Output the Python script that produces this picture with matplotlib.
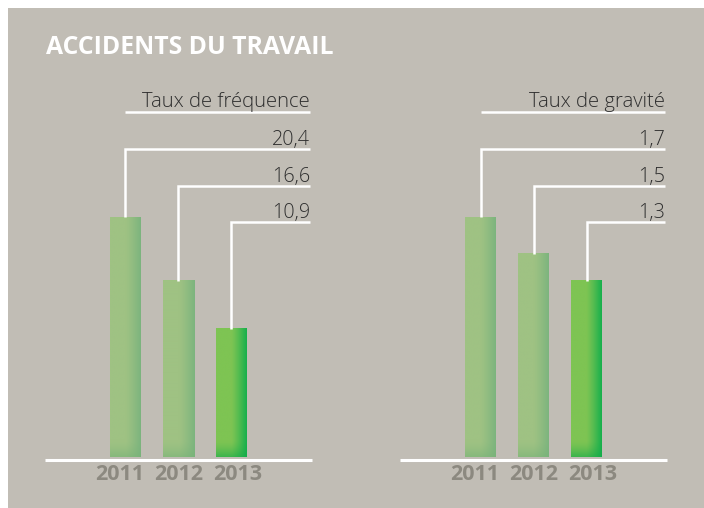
import numpy as np
import matplotlib
matplotlib.use("Agg")
import matplotlib.pyplot as plt
from matplotlib.patches import Rectangle
from matplotlib.colors import to_rgb

# ---------------- data ----------------
years = ["2011", "2012", "2013"]
freq_values = [20.4, 16.6, 10.9]          # labelled values, Taux de fréquence
freq_bar_heights = [20.4, 15.0, 10.9]     # bar heights as drawn in the picture
grav_values = [1.7, 1.5, 1.3]             # labelled values, Taux de gravité
grav_bar_heights = [1.7, 1.44, 1.25]      # bar heights as drawn in the picture
panel_titles = ["Taux de fréquence", "Taux de gravité"]
title = "ACCIDENTS DU TRAVAIL"

# ---------------- style ----------------
W, H = 704, 508
BG = "#c1bdb5"
TXT = "#2e2e2e"
YEAR_COL = "#8c8980"
LIGHT_BAR = ("#9fc283", "#7cb47e", "#78b378")
DARK_BAR = ("#7ec453", "#16b04c", "#12ab48")

plt.rcParams["font.family"] = ["Open Sans", "DejaVu Sans"]

fig = plt.figure(figsize=(W / 100, H / 100), dpi=100)
fig.patch.set_facecolor("white")
fig.patches.append(Rectangle((8 / W, 0), 1, 1 - 8 / H, transform=fig.transFigure,
                             facecolor=BG, edgecolor="none", zorder=-10))

fig.text(46 / W, 1 - 47 / H, title, color="white", fontsize=17.8, fontweight="bold",
         ha="left", va="center", zorder=5)


def bar_image(colors, bar_px_h):
    left, right, bottom = [np.array(to_rgb(c)) for c in colors]
    nx, ny = 64, 128
    t = np.linspace(0, 1, nx)
    s = np.clip((t - 0.5) / 0.5, 0, 1) ** 1.2
    row = left[None, :] * (1 - s[:, None]) + right[None, :] * s[:, None]
    img = np.repeat(row[None, :, :], ny, axis=0)
    frac = min(16.0 / bar_px_h, 0.5)
    v = np.linspace(1, 0, ny)  # top -> bottom (row 0 = top)
    b = np.clip((frac - v) / frac, 0, 1) ** 1.5
    img = img * (1 - b[:, None, None] * 0.6) + bottom[None, None, :] * (b[:, None, None] * 0.6)
    return img


def panel(x0_px, values, heights, header):
    ax_left, ax_right, ax_bot, ax_top = x0_px, x0_px + 267, 460, 80
    ax = fig.add_axes([ax_left / W, 1 - ax_bot / H, (ax_right - ax_left) / W,
                       (ax_bot - ax_top) / H])
    ax.set_zorder(2)
    ax.set_axis_off()
    ax.patch.set_alpha(0)
    step = 53.0
    xmin = -80.5 / step
    xmax = xmin + (ax_right - ax_left) / step
    k = 240.0 / max(heights)                 # px per unit
    ymin = -3.0 / k
    ymax = ymin + (ax_bot - ax_top) / k
    x = np.arange(len(heights))
    bw = 31 / step

    def level(py):
        return ymin + (ax_bot - py) / (ax_bot - ax_top) * (ymax - ymin)

    xend = xmin + (310 - 45) / step
    # baseline
    ax.plot([xmin, xmax], [ymin, ymin], color="white", lw=2.2, solid_capstyle="butt",
            clip_on=False, zorder=3)
    # bars
    for i, h in enumerate(heights):
        cols = DARK_BAR if i == len(heights) - 1 else LIGHT_BAR
        ax.imshow(bar_image(cols, h * k), extent=[x[i] - bw / 2, x[i] + bw / 2, 0, h],
                  aspect="auto", interpolation="bilinear", zorder=2)
    # header
    hy = level(112)
    ax.plot([x[0], xend], [hy, hy], color="white", lw=1.8, solid_capstyle="butt", zorder=3)
    ax.annotate(header, xy=(xend, hy), xytext=(0, 5), textcoords="offset pixels",
                ha="right", va="baseline", fontsize=14.6, color=TXT, fontweight="light")
    # leaders
    for i, (v, h, py) in enumerate(zip(values, heights, [149, 186, 222])):
        ly = level(py)
        ax.plot([x[i], x[i], xend], [h, ly, ly], color="white", lw=1.8,
                solid_joinstyle="miter", solid_capstyle="butt", zorder=3)
        ax.annotate(f"{v:.1f}".replace(".", ","), xy=(xend, ly), xytext=(0, 4),
                    textcoords="offset pixels", ha="right", va="baseline",
                    fontsize=14.2, color=TXT, fontweight="light")
    # years (labels are spaced a little wider than the bars)
    mid = (len(years) - 1) / 2
    for i, yl in enumerate(years):
        xl = mid + (i - mid) * 59.0 / step
        ax.annotate(yl, xy=(xl, ymin), xytext=(0, -4), textcoords="offset pixels",
                    ha="center", va="top", fontsize=15.5, fontweight="bold", color=YEAR_COL,
                    annotation_clip=False)
    ax.set_xlim(xmin, xmax)
    ax.set_ylim(ymin, ymax)


panel(45, freq_values, freq_bar_heights, panel_titles[0])
panel(400, grav_values, grav_bar_heights, panel_titles[1])

fig.savefig("out.png", dpi=100, facecolor=fig.get_facecolor())
